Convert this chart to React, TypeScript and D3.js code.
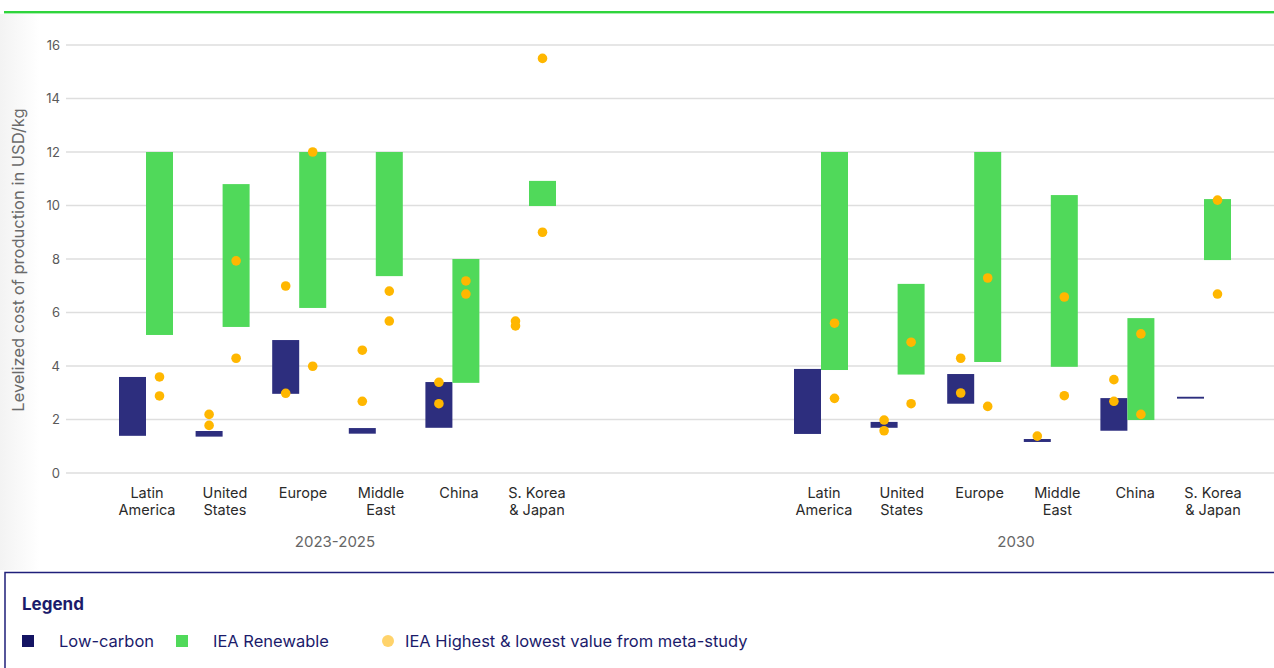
import React from "react";
import * as d3 from "d3";

const categories = ["Latin America", "United States", "Europe", "Middle East", "China", "S. Korea & Japan"];
const categoryLines = [["Latin", "America"], ["United", "States"], ["Europe"], ["Middle", "East"], ["China"], ["S. Korea", "& Japan"]];
const periods = ["2023-2025", "2030"];
const yTicks = [0, 2, 4, 6, 8, 10, 12, 14, 16];

// [low, high] ranges per category
const lowCarbon2023: (number[] | null)[] = [[1.39, 3.59], [1.36, 1.57], [2.96, 4.97], [1.47, 1.68], [1.69, 3.4], null];
const renewable2023: (number[] | null)[] = [[5.16, 12], [5.46, 10.8], [6.17, 12], [7.36, 12], [3.37, 8.0], [9.98, 10.92]];
const lowCarbonDots2023: number[][] = [[], [2.19, 1.78], [6.99, 2.98], [4.59, 2.68], [3.39, 2.59], [5.68, 5.5]];
const renewableDots2023: number[][] = [[3.59, 2.88], [4.29, 7.93], [3.99, 12.0], [6.8, 5.68], [7.18, 6.69], [15.5, 9.0]];

const lowCarbon2030: (number[] | null)[] = [[1.46, 3.89], [1.69, 1.91], [2.59, 3.7], [1.16, 1.27], [1.58, 2.8], [2.78, 2.85]];
const renewable2030: (number[] | null)[] = [[3.85, 12], [3.68, 7.07], [4.15, 12], [3.97, 10.39], [1.98, 5.79], [7.96, 10.24]];
const lowCarbonDots2030: number[][] = [[], [1.98, 1.58], [4.29, 2.99], [1.38], [3.49, 2.68], []];
const renewableDots2030: number[][] = [[5.6, 2.79], [4.89, 2.59], [7.29, 2.49], [6.58, 2.89], [5.2, 2.19], [10.2, 6.69]];

const legendLabels = ["Low-carbon", "IEA Renewable", "IEA Highest & lowest value from meta-study"];

const W = 1274;
const H = 668;
const NAVY = "#2d2e7e";
const GREEN = "#50d95a";
const DOT = "#ffb700";
const TEXT_NAVY = "#1b1b6b";
const FONT = "Inter, 'Noto Sans', sans-serif";

export default function App() {
  const y = d3.scaleLinear().domain([0, 16]).range([473, 45]);
  const facets = [
    {
      period: periods[0],
      low: lowCarbon2023, ren: renewable2023, lowDots: lowCarbonDots2023, renDots: renewableDots2023,
      band: d3.scaleBand<string>().domain(categories).range([107.7, 567.3]).padding(0),
      label: d3.scalePoint<string>().domain(categories).range([147, 537]),
      groupX: 335,
    },
    {
      period: periods[1],
      low: lowCarbon2030, ren: renewable2030, lowDots: lowCarbonDots2030, renDots: renewableDots2030,
      band: d3.scaleBand<string>().domain(categories).range([782.7, 1242.3]).padding(0),
      label: d3.scalePoint<string>().domain(categories).range([824, 1213]),
      groupX: 1016,
    },
  ];
  const bw = 27;

  return (
    <svg width={W} height={H} style={{ position: "absolute", left: 0, top: 0, background: "#fff" }} fontFamily={FONT}>
      <defs>
        <linearGradient id="lshade" x1="0" x2="1" y1="0" y2="0">
          <stop offset="0" stopColor="#f3f3f3" />
          <stop offset="1" stopColor="#ffffff" />
        </linearGradient>
      </defs>
      <rect x={0} y={0} width={W} height={H} fill="#fff" />
      <rect x={0} y={14} width={40} height={556} fill="url(#lshade)" />
      {/* top green line */}
      <rect x={4} y={11} width={W - 4} height={2.4} fill="#2fd43c" />

      {/* gridlines and y ticks */}
      {yTicks.map((t) => (
        <g key={t}>
          <line x1={66} x2={W} y1={y(t)} y2={y(t)} stroke="#dedede" strokeWidth={1.5} />
          <text x={60} y={y(t) + 4.5} textAnchor="end" fontSize={13} fill="#5a5a5a">{t}</text>
        </g>
      ))}
      <text transform={`translate(24,260) rotate(-90)`} textAnchor="middle" fontSize={16.5} fill="#6a6a6a">
        Levelized cost of production in USD/kg
      </text>

      {facets.map((f, fi) => (
        <g key={fi}>
          {categories.map((c, i) => {
            const cx = (f.band(c) as number) + f.band.bandwidth() / 2;
            const low = f.low[i];
            const ren = f.ren[i];
            return (
              <g key={c}>
                {low && (
                  <rect x={cx - bw} width={bw} y={y(low[1])} height={Math.max(1.5, y(low[0]) - y(low[1]))} fill={NAVY} />
                )}
                {ren && (
                  <rect x={cx} width={bw} y={y(ren[1])} height={y(ren[0]) - y(ren[1])} fill={GREEN} />
                )}
                {f.lowDots[i].map((v, k) => (
                  <circle key={"l" + k} cx={cx - bw / 2} cy={y(v)} r={4.8} fill={DOT} />
                ))}
                {f.renDots[i].map((v, k) => (
                  <circle key={"r" + k} cx={cx + bw / 2} cy={y(v)} r={4.8} fill={DOT} />
                ))}
              </g>
            );
          })}
          {categories.map((c, i) => (
            <text key={"lab" + c} x={f.label(c)} y={497.5} textAnchor="middle" fontSize={14.5} fill="#2a2a2a">
              {categoryLines[i].map((ln, k) => (
                <tspan key={k} x={f.label(c)} dy={k === 0 ? 0 : 17.6}>{ln}</tspan>
              ))}
            </text>
          ))}
          <text x={f.groupX} y={546.5} textAnchor="middle" fontSize={15} fill="#666">{f.period}</text>
        </g>
      ))}

      {/* legend */}
      <rect x={5} y={572.5} width={W + 10} height={120} fill="#fff" stroke="#1f1f7a" strokeWidth={1.5} />
      <text x={22} y={610} fontSize={17} fontWeight={700} fill={TEXT_NAVY}>Legend</text>
      <rect x={22} y={635} width={12} height={12} fill="#141463" />
      <text x={59} y={647} fontSize={16.5} fill={TEXT_NAVY}>{legendLabels[0]}</text>
      <rect x={176} y={635} width={12} height={12} fill={GREEN} />
      <text x={213} y={647} fontSize={16.5} fill={TEXT_NAVY}>{legendLabels[1]}</text>
      <circle cx={388} cy={641} r={6} fill="#ffd36b" />
      <text x={405} y={647} fontSize={16.5} fill={TEXT_NAVY}>{legendLabels[2]}</text>
    </svg>
  );
}
